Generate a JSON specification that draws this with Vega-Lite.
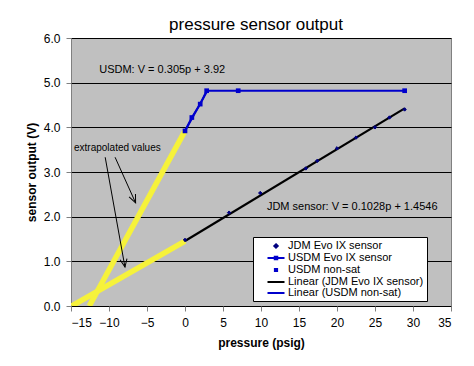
{
  "$schema": "https://vega.github.io/schema/vega-lite/v6.json",
  "autosize": "none",
  "width": 380,
  "height": 268,
  "padding": {"left": 71, "top": 38, "right": 23, "bottom": 60},
  "background": "#ffffff",
  "title": {"text": "pressure sensor output", "fontSize": 17, "font": "Liberation Sans", "fontWeight": "normal", "color": "#000000", "offset": -2, "dx": -5},
  "datasets": {
    "series": [
      {"series": "JDM Evo IX sensor", "p": 0, "v": 1.48},
      {"series": "JDM Evo IX sensor", "p": 5.8, "v": 2.09},
      {"series": "JDM Evo IX sensor", "p": 9.9, "v": 2.53},
      {"series": "JDM Evo IX sensor", "p": 15.9, "v": 3.08},
      {"series": "JDM Evo IX sensor", "p": 17.4, "v": 3.25},
      {"series": "JDM Evo IX sensor", "p": 20.0, "v": 3.53},
      {"series": "JDM Evo IX sensor", "p": 22.5, "v": 3.77},
      {"series": "JDM Evo IX sensor", "p": 25.0, "v": 4.0},
      {"series": "JDM Evo IX sensor", "p": 26.9, "v": 4.22},
      {"series": "JDM Evo IX sensor", "p": 28.9, "v": 4.4},
      {"series": "USDM Evo IX sensor", "p": 0, "v": 3.92},
      {"series": "USDM Evo IX sensor", "p": 0.9, "v": 4.22},
      {"series": "USDM Evo IX sensor", "p": 2.0, "v": 4.52},
      {"series": "USDM Evo IX sensor", "p": 2.85, "v": 4.82},
      {"series": "USDM Evo IX sensor", "p": 7.0, "v": 4.82},
      {"series": "USDM Evo IX sensor", "p": 28.9, "v": 4.82},
      {"series": "USDM non-sat", "p": 0, "v": 3.92},
      {"series": "USDM non-sat", "p": 0.9, "v": 4.22},
      {"series": "USDM non-sat", "p": 2.0, "v": 4.52},
      {"series": "USDM non-sat", "p": 2.85, "v": 4.82},
      {"series": "Linear (JDM Evo IX sensor)", "p": 0, "v": 1.4546},
      {"series": "Linear (JDM Evo IX sensor)", "p": 28.9, "v": 4.425},
      {"series": "Linear (USDM non-sat)", "p": 0, "v": 3.92},
      {"series": "Linear (USDM non-sat)", "p": 2.85, "v": 4.79},
      {"series": "extrapolated USDM", "p": -12.6, "v": 0},
      {"series": "extrapolated USDM", "p": 0, "v": 3.92},
      {"series": "extrapolated JDM", "p": -14.9, "v": 0},
      {"series": "extrapolated JDM", "p": 0, "v": 1.4546}
    ],
    "arrows": [
      {"arrow": "a1", "p": -9.2, "v": 3.33, "p2": -6.5, "v2": 2.31},
      {"arrow": "a2", "p": -10.5, "v": 3.33, "p2": -7.9, "v2": 0.87}
    ],
    "labels": [
      {"label": "USDM: V = 0.305p + 3.92", "p": -3.0, "v": 5.28, "kind": "eq"},
      {"label": "JDM sensor: V = 0.1028p + 1.4546", "p": 22.0, "v": 2.21, "kind": "eq"},
      {"label": "extrapolated values", "p": -8.9, "v": 3.53, "kind": "note"}
    ]
  },
  "encoding": {
    "x": {"field": "p", "type": "quantitative", "scale": {"domain": [-15, 35], "nice": false, "zero": false},
      "axis": {"title": "pressure (psig)", "values": [-15, -10, -5, 0, 5, 10, 15, 20, 25, 30, 35], "grid": false}},
    "y": {"field": "v", "type": "quantitative", "scale": {"domain": [0, 6], "nice": false},
      "axis": {"title": "sensor output (V)", "values": [0, 1, 2, 3, 4, 5, 6], "format": ".1f", "grid": true}}
  },
  "layer": [
    {
      "data": {"name": "series"},
      "transform": [{"filter": "indexof(datum.series, 'extrapolated') === 0"}],
      "mark": {"type": "line", "color": "#f6f23a", "strokeWidth": 5.5, "strokeCap": "butt", "clip": true},
      "encoding": {"detail": {"field": "series"}}
    },
    {
      "data": {"name": "series"},
      "transform": [{"filter": "datum.series === 'Linear (JDM Evo IX sensor)'"}],
      "mark": {"type": "line", "color": "#000000", "strokeWidth": 2.2}
    },
    {
      "data": {"name": "series"},
      "transform": [{"filter": "datum.series === 'Linear (USDM non-sat)'"}],
      "mark": {"type": "line", "color": "#0000cc", "strokeWidth": 2}
    },
    {
      "data": {"name": "series"},
      "transform": [{"filter": "datum.series === 'USDM Evo IX sensor'"}],
      "mark": {"type": "line", "color": "#0000cc", "strokeWidth": 2}
    },
    {
      "data": {"name": "series"},
      "transform": [{"filter": "datum.series === 'USDM Evo IX sensor'"}],
      "mark": {"type": "point", "shape": "square", "filled": true, "color": "#0000cc", "size": 22, "opacity": 1}
    },
    {
      "data": {"name": "series"},
      "transform": [{"filter": "datum.series === 'JDM Evo IX sensor' || datum.series === 'USDM non-sat'"}],
      "mark": {"type": "point", "filled": true, "size": 100, "opacity": 1, "strokeWidth": 1},
      "encoding": {
        "color": {"field": "series", "type": "nominal",
          "scale": {"domain": ["JDM Evo IX sensor", "USDM Evo IX sensor", "USDM non-sat", "Linear (JDM Evo IX sensor)", "Linear (USDM non-sat)"],
            "range": ["#000080", "#0000cc", "#0000cc", "#000000", "#0000cc"]},
          "legend": {"title": null, "orient": "none", "legendX": 182, "legendY": 199}},
        "stroke": {"field": "series", "type": "nominal",
          "scale": {"domain": ["JDM Evo IX sensor", "USDM Evo IX sensor", "USDM non-sat", "Linear (JDM Evo IX sensor)", "Linear (USDM non-sat)"],
            "range": ["#000080", "#0000cc", "#0000cc", "#000000", "#0000cc"]},
          "legend": {"title": null, "orient": "none", "legendX": 182, "legendY": 199}},
        "shape": {"field": "series", "type": "nominal",
          "scale": {"domain": ["JDM Evo IX sensor", "USDM Evo IX sensor", "USDM non-sat", "Linear (JDM Evo IX sensor)", "Linear (USDM non-sat)"],
            "range": ["M0,-0.34L0.34,0L0,0.34L-0.34,0Z", "M-1.7,0H1.7M-0.25,-0.25H0.25V0.25H-0.25Z", "M-0.22,-0.22H0.22V0.22H-0.22Z", "M-1.7,0H1.7", "M-1.7,0H1.7"]},
          "legend": {"title": null, "orient": "none", "legendX": 182, "legendY": 199}}
      }
    },
    {
      "data": {"name": "arrows"},
      "mark": {"type": "rule", "color": "#000000", "strokeWidth": 1},
      "encoding": {"x2": {"field": "p2"}, "y2": {"field": "v2"}}
    },
    {
      "data": {"name": "arrows"},
      "transform": [{"filter": "datum.arrow === 'a1'"}],
      "mark": {"type": "point", "shape": "M-1,-2.3L0,0L1,-2.3", "filled": false, "color": "#000000", "strokeWidth": 1, "size": 49, "opacity": 1, "angle": 335.6},
      "encoding": {"x": {"field": "p2", "type": "quantitative"}, "y": {"field": "v2", "type": "quantitative"}}
    },
    {
      "data": {"name": "arrows"},
      "transform": [{"filter": "datum.arrow === 'a2'"}],
      "mark": {"type": "point", "shape": "M-1,-2.3L0,0L1,-2.3", "filled": false, "color": "#000000", "strokeWidth": 1, "size": 49, "opacity": 1, "angle": 349.7},
      "encoding": {"x": {"field": "p2", "type": "quantitative"}, "y": {"field": "v2", "type": "quantitative"}}
    },
    {
      "data": {"name": "labels"},
      "transform": [{"filter": "datum.kind === 'eq'"}],
      "mark": {"type": "text", "font": "Liberation Sans", "fontSize": 11, "color": "#000000"},
      "encoding": {"text": {"field": "label"}}
    },
    {
      "data": {"name": "labels"},
      "transform": [{"filter": "datum.kind === 'note'"}],
      "mark": {"type": "text", "font": "Liberation Sans", "fontSize": 10, "color": "#000000"},
      "encoding": {"text": {"field": "label"}}
    }
  ],
  "config": {
    "view": {"fill": "#c0c0c0", "stroke": "#808080", "strokeWidth": 1},
    "axis": {
      "labelFont": "Liberation Sans", "labelFontSize": 12, "labelColor": "#000000",
      "titleFont": "Liberation Sans", "titleFontSize": 12, "titleFontWeight": "bold", "titleColor": "#000000",
      "domain": false, "tickColor": "#808080", "tickSize": 5, "labelPadding": 6,
      "gridColor": "#000000", "gridWidth": 1, "gridOpacity": 1
    },
    "axisY": {"titlePadding": 5},
    "axisX": {"titlePadding": 9},
    "legend": {
      "labelFont": "Liberation Sans", "labelFontSize": 11, "labelColor": "#000000",
      "fillColor": "#ffffff", "strokeColor": "#000000", "padding": 3,
      "symbolSize": 100, "symbolStrokeWidth": 2, "rowPadding": 0, "labelOffset": 6, "symbolOpacity": 1,
      "symbolOffset": 14
    }
  }
}
